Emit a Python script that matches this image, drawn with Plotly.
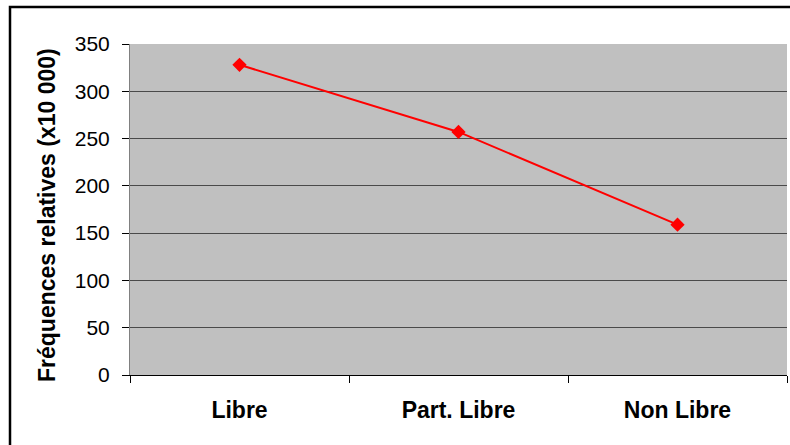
import plotly.graph_objects as go

categories = ["Libre", "Part. Libre", "Non Libre"]
values = [328, 257, 159]
y_ticks = [0, 50, 100, 150, 200, 250, 300, 350]

W, H = 790, 445
L, R, T, B = 130, 3, 44, 70
pw, ph = W - L - R, H - T - B

def px_x(p):
    return (p - L) / pw

def px_y(p):
    return (H - B - p) / ph

fig = go.Figure()
fig.add_trace(go.Scatter(
    x=categories, y=values, mode="lines+markers",
    line=dict(color="#FF0000", width=2),
    marker=dict(symbol="diamond", size=11, color="#FF0000"),
    showlegend=False, cliponaxis=False,
))

fig.update_layout(
    width=W, height=H,
    margin=dict(l=L, r=R, t=T, b=B, pad=0),
    paper_bgcolor="white",
    plot_bgcolor="#C0C0C0",
    font=dict(family="Liberation Sans, Arial, sans-serif", color="black"),
    xaxis=dict(
        type="category", range=[-0.5, 2.5], tickson="boundaries",
        ticks="outside", ticklen=7, tickcolor="black", tickwidth=1,
        showline=True, linecolor="black", linewidth=1,
        showgrid=False, zeroline=False,
        tickfont=dict(size=23, family="Liberation Sans, Arial, sans-serif", weight="bold"),
        ticklabelstandoff=14,
    ),
    yaxis=dict(
        range=[0, 350], tickvals=y_ticks, ticktext=[str(v) for v in y_ticks],
        ticks="outside", ticklen=7, tickcolor="black", tickwidth=1,
        showline=True, linecolor="#808080", linewidth=1,
        showgrid=True, gridcolor="#4A4A4A", gridwidth=1.3,
        zeroline=False,
        tickfont=dict(size=21),
        ticklabelstandoff=8,
    ),
    shapes=[
        dict(type="rect", xref="paper", yref="paper",
             x0=px_x(10), x1=px_x(792), y0=px_y(447), y1=px_y(7),
             line=dict(color="black", width=2.5), fillcolor="rgba(0,0,0,0)", layer="above"),
    ],
    annotations=[
        dict(text="<b>Fréquences relatives (x10 000)</b>", textangle=-90,
             xref="paper", yref="paper", x=px_x(47), y=px_y(215),
             xanchor="center", yanchor="middle", showarrow=False,
             font=dict(size=23, family="Liberation Sans, Arial, sans-serif")),
    ],
)

fig.write_html("out.html")
